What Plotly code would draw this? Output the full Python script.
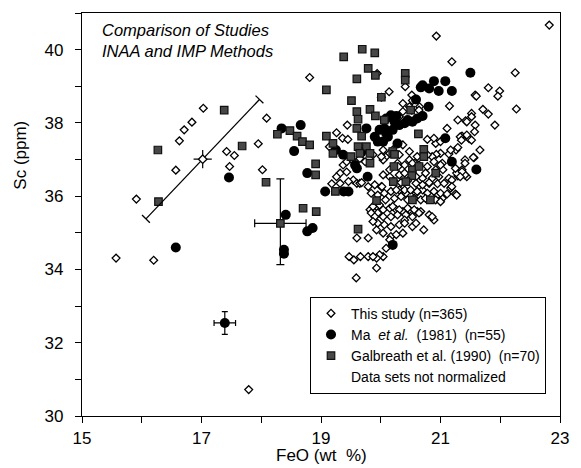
import plotly.graph_objects as go

# ---- data: (FeO wt %, Sc ppm) ----
this_study = [
    (17.03, 38.40), (16.84, 38.02), (16.71, 37.81), (16.63, 37.51), (16.57, 36.71),
    (15.91, 35.92), (15.57, 34.31), (16.20, 34.25), (18.09, 38.13), (17.95, 37.43),
    (17.42, 37.22), (17.55, 37.11), (17.47, 36.81), (18.02, 36.72), (17.79, 30.72),
    (22.82, 40.67), (20.93, 40.37), (21.19, 39.67), (22.25, 39.37), (18.81, 39.24),
    (22.27, 38.38), (21.80, 38.96), (21.99, 38.87), (21.96, 38.73), (21.58, 38.76),
    (21.60, 38.73), (21.15, 38.46), (21.71, 38.37), (21.52, 38.26), (21.80, 38.24),
    (21.29, 38.08), (21.42, 38.06), (21.58, 37.94), (21.91, 37.94), (21.11, 37.85),
    (21.36, 37.64), (21.48, 37.57), (21.66, 37.26), (21.56, 37.05), (21.41, 36.99),
    (21.26, 37.26), (21.14, 37.15), (21.00, 37.17), (20.93, 37.14), (20.86, 37.08),
    (21.25, 36.06), (21.44, 36.53), (21.36, 36.72), (21.29, 36.55), (21.14, 36.49),
    (19.44, 37.94), (19.26, 37.73), (19.36, 37.58), (19.45, 37.55), (19.19, 37.35),
    (19.14, 37.35), (20.14, 38.85), (20.01, 38.70), (20.37, 38.53), (20.52, 38.35),
    (20.65, 38.44), (20.52, 38.76), (20.41, 38.99), (19.94, 39.35), (20.37, 37.40),
    (20.20, 37.26), (20.09, 37.08), (20.04, 37.26), (19.18, 36.34), (19.32, 36.63),
    (19.26, 36.53), (19.43, 36.66), (19.54, 36.44), (19.60, 36.35), (19.37, 36.85),
    (19.43, 36.94), (19.51, 37.01), (20.48, 38.44), (20.53, 38.61), (20.64, 38.35),
    (20.37, 38.31), (20.31, 38.17), (21.44, 38.03), (21.52, 38.17), (21.33, 37.62),
    (21.44, 37.67), (21.52, 37.53), (21.57, 37.76), (20.78, 37.55), (20.92, 37.44),
    (20.89, 37.58), (21.00, 37.49), (21.29, 37.33), (21.35, 37.53), (21.17, 37.26),
    (20.04, 36.99), (20.28, 36.90), (20.48, 36.99), (20.57, 36.90), (20.75, 36.63),
    (20.92, 36.72), (21.03, 36.90), (21.27, 36.63), (21.41, 36.58), (21.41, 36.90),
    (21.55, 37.06), (21.25, 36.76), (21.36, 36.67), (21.33, 36.53), (20.95, 36.03),
    (21.03, 35.94), (19.65, 36.35), (19.79, 36.26), (19.90, 36.31), (20.01, 36.26),
    (19.84, 36.08), (19.95, 36.03), (20.06, 36.08), (20.17, 36.13), (20.31, 36.17),
    (20.42, 36.08), (20.59, 36.08), (20.70, 36.17), (20.78, 36.08), (19.82, 35.63),
    (19.93, 35.72), (20.04, 35.63), (20.15, 35.67), (20.26, 35.63), (20.37, 35.58),
    (20.48, 35.63), (20.61, 35.58), (20.04, 36.58), (20.15, 36.53), (20.31, 36.58),
    (20.40, 36.63), (20.59, 36.53), (20.70, 36.49), (20.81, 36.35), (20.86, 36.49),
    (20.97, 36.53), (21.04, 36.72), (21.00, 36.85), (20.15, 36.72), (20.29, 36.81),
    (20.40, 36.85), (20.53, 36.90), (20.64, 36.85), (20.78, 36.81), (20.89, 36.94),
    (20.15, 37.17), (20.31, 37.13), (20.48, 37.22), (20.61, 37.08), (20.78, 37.13),
    (20.01, 37.08), (19.87, 37.13), (19.74, 36.94), (19.65, 37.03), (20.02, 36.26),
    (20.23, 36.40), (20.34, 36.37), (20.45, 36.42), (20.59, 36.35), (20.70, 36.31),
    (20.81, 36.37), (20.95, 36.34), (21.06, 36.35), (21.17, 36.22), (21.19, 36.44),
    (20.26, 36.17), (20.40, 36.17), (20.50, 36.17), (20.61, 36.13), (20.89, 36.13),
    (21.00, 36.08), (21.11, 36.06), (20.08, 35.90), (20.23, 35.94), (20.34, 35.99),
    (20.45, 35.90), (20.56, 35.94), (20.67, 35.90), (20.75, 35.94), (20.92, 35.90),
    (21.00, 35.85), (19.98, 35.76), (20.20, 35.72), (20.31, 35.63), (20.45, 35.67),
    (20.56, 35.63), (20.67, 35.58), (20.81, 35.49), (20.89, 35.35), (20.86, 35.44),
    (19.95, 35.54), (20.04, 35.44), (20.17, 35.44), (20.28, 35.49), (20.42, 35.49),
    (20.53, 35.44), (20.64, 35.54), (20.40, 35.35), (19.95, 35.26), (20.06, 35.22),
    (20.17, 35.17), (20.31, 35.22), (20.40, 35.26), (20.53, 35.17), (20.59, 35.26),
    (20.72, 35.08), (19.93, 35.08), (20.04, 34.99), (20.17, 34.90), (20.26, 34.95),
    (20.37, 34.99), (20.15, 34.81), (20.09, 34.58), (20.04, 34.35), (19.98, 34.40),
    (19.93, 34.31), (19.93, 34.04), (21.19, 36.26), (21.27, 36.03), (19.32, 36.35),
    (19.46, 36.40), (19.68, 36.37), (19.87, 35.72), (19.84, 35.54), (19.90, 35.44),
    (19.87, 35.31), (19.60, 34.86), (19.79, 34.86), (19.47, 34.35), (19.55, 34.26),
    (19.66, 34.35), (19.79, 34.35), (19.87, 34.35), (19.59, 33.77),
]

ma_1981 = [
    (17.46, 36.51), (16.57, 34.60), (18.41, 35.49), (18.38, 34.54), (18.38, 34.43),
    (18.34, 37.85), (18.55, 37.23), (18.77, 35.04), (18.86, 35.13), (18.66, 37.94),
    (18.77, 36.63), (21.50, 39.37), (20.70, 39.03), (20.89, 39.14), (21.08, 39.14),
    (21.19, 38.87), (20.97, 38.87), (20.81, 38.94), (20.67, 38.97), (20.59, 38.64),
    (20.80, 38.44), (20.70, 38.19), (20.61, 38.12), (20.53, 38.03), (20.40, 37.99),
    (20.26, 38.19), (20.17, 38.21), (20.23, 38.03), (20.31, 37.94), (20.45, 38.08),
    (20.09, 38.12), (20.20, 37.81), (20.06, 37.85), (20.09, 37.72), (19.98, 37.81),
    (19.90, 37.62), (19.95, 37.49), (20.04, 37.49), (20.12, 37.62), (19.76, 37.85),
    (20.28, 37.44), (21.08, 37.58), (21.19, 36.94), (21.60, 36.73), (19.25, 37.26),
    (19.37, 37.13), (19.57, 36.85), (19.60, 36.76), (19.78, 36.53), (19.68, 37.21),
    (19.46, 36.13), (19.38, 36.13), (19.07, 36.13), (20.20, 34.67),
]

galbreath_1990 = [
    (17.38, 38.35), (16.27, 37.26), (16.28, 35.85), (17.68, 37.37), (18.08, 36.38),
    (18.27, 37.69), (18.48, 37.79), (18.70, 35.67), (18.92, 35.58), (19.69, 40.01),
    (19.90, 39.91), (19.38, 39.80), (19.79, 39.49), (19.91, 39.30), (19.60, 39.20),
    (19.09, 38.90), (20.41, 39.35), (20.41, 39.17), (19.51, 38.61), (20.01, 38.70),
    (19.60, 38.31), (19.82, 38.37), (19.91, 38.19), (19.62, 38.10), (19.60, 37.85),
    (19.68, 37.64), (19.62, 37.35), (19.76, 37.35), (19.82, 37.17), (19.82, 36.90),
    (19.65, 37.17), (19.50, 37.08), (19.09, 37.64), (19.20, 37.44), (19.20, 37.17),
    (20.06, 38.08), (20.20, 37.22), (20.23, 37.14), (20.63, 37.70), (20.50, 38.35),
    (20.72, 37.28), (20.72, 37.08), (20.22, 36.81), (20.53, 36.72), (20.52, 36.56),
    (20.64, 36.81), (20.21, 36.40), (20.42, 36.40), (20.92, 36.63), (18.91, 36.88),
    (18.91, 36.58), (18.60, 37.64), (18.69, 37.49), (18.81, 37.40), (19.24, 36.13),
    (19.93, 35.88), (20.53, 35.90), (20.83, 35.90), (19.62, 35.10),
]

# representative uncertainties
diag_center = (17.02, 37.01)      # this study, correlated error
diag_half = (0.95, 1.63)
galb_err_pt = (18.32, 35.26)
galb_err_x = 0.43
galb_err_y_plus, galb_err_y_minus = 1.21, 1.13
ma_err_pt = (17.39, 32.54)
ma_err_x, ma_err_y = 0.18, 0.31

x_range = [15, 23]
y_range = [30, 41]
x_ticks = [15, 17, 19, 21, 23]
y_ticks = [30, 32, 34, 36, 38, 40]

FONT = "Liberation Sans, Arial, Helvetica, sans-serif"
W, H = 581, 468
M = dict(l=82, r=15, t=13, b=52)
plot_w = W - M["l"] - M["r"]
plot_h = H - M["t"] - M["b"]
kx = plot_w / (x_range[1] - x_range[0])
ky = plot_h / (y_range[1] - y_range[0])

SQ_FILL, SQ_EDGE = "#474747", "#111111"


def split(pairs):
    return [p[0] for p in pairs], [p[1] for p in pairs]


fig = go.Figure()

tx, ty = split(this_study)
fig.add_trace(go.Scatter(
    x=tx, y=ty, mode="markers", name="This study (n=365)",
    marker=dict(symbol="diamond", size=6, color="white",
                line=dict(color="black", width=1.3)),
))

mx, my = split(ma_1981)
fig.add_trace(go.Scatter(
    x=mx, y=my, mode="markers",
    name="Ma\u00a0\u00a0<i>et al.</i>\u00a0\u00a0(1981)\u00a0\u00a0(n=55)",
    marker=dict(symbol="circle", size=10, color="black",
                line=dict(color="black", width=0)),
))

gx, gy = split(galbreath_1990)
fig.add_trace(go.Scatter(
    x=gx, y=gy, mode="markers",
    name="Galbreath et al. (1990)\u00a0\u00a0(n=70)",
    marker=dict(symbol="square", size=7.5, color=SQ_FILL,
                line=dict(color=SQ_EDGE, width=1.2)),
))

fig.add_trace(go.Scatter(
    x=[None], y=[None], mode="markers", name="Data sets not normalized",
    marker=dict(color="rgba(0,0,0,0)", size=1, line=dict(width=0)),
))

# diagonal (correlated) error bar with perpendicular caps
cx, cy = diag_center
hx, hy = diag_half
ends = [(cx - hx, cy - hy), (cx + hx, cy + hy)]
dpx, dpy = hx * kx, hy * ky
norm = (dpx ** 2 + dpy ** 2) ** 0.5
cap = 5.5
ox, oy = (-dpy / norm) * cap / kx, (dpx / norm) * cap / ky
bar_x = [ends[0][0], ends[1][0], None]
bar_y = [ends[0][1], ends[1][1], None]
for ex, ey in ends:
    bar_x += [ex - ox, ex + ox, None]
    bar_y += [ey - oy, ey + oy, None]
fig.add_trace(go.Scatter(
    x=bar_x, y=bar_y, mode="lines", showlegend=False, hoverinfo="skip",
    line=dict(color="black", width=1.3),
))
fig.add_trace(go.Scatter(
    x=[cx], y=[cy], mode="markers", showlegend=False,
    marker=dict(symbol="cross-thin-open", size=13, color="black",
                line=dict(color="black", width=1.2)),
))
fig.add_trace(go.Scatter(
    x=[cx], y=[cy], mode="markers", showlegend=False,
    marker=dict(symbol="diamond", size=6.5, color="white",
                line=dict(color="black", width=1.3)),
))

fig.add_trace(go.Scatter(
    x=[galb_err_pt[0]], y=[galb_err_pt[1]], mode="markers", showlegend=False,
    marker=dict(symbol="square", size=7.5, color=SQ_FILL,
                line=dict(color=SQ_EDGE, width=1.2)),
    error_x=dict(type="data", array=[galb_err_x], color="black",
                 thickness=1.2, width=4),
    error_y=dict(type="data", symmetric=False, array=[galb_err_y_plus],
                 arrayminus=[galb_err_y_minus], color="black",
                 thickness=1.2, width=4),
))

fig.add_trace(go.Scatter(
    x=[ma_err_pt[0]], y=[ma_err_pt[1]], mode="markers", showlegend=False,
    marker=dict(symbol="circle", size=10, color="black"),
    error_x=dict(type="data", array=[ma_err_x], color="black",
                 thickness=1.2, width=3),
    error_y=dict(type="data", array=[ma_err_y], color="black",
                 thickness=1.2, width=3),
))

axis_common = dict(
    showgrid=False, zeroline=False, showline=True, linecolor="black",
    linewidth=1.3, mirror=True, ticks="outside", ticklen=6, tickwidth=1.2,
    tickcolor="black", tickfont=dict(family=FONT, size=17, color="black"),
)
fig.update_xaxes(range=x_range, tickvals=x_ticks,
                 minor=dict(dtick=1, ticks="outside", ticklen=6,
                            tickwidth=1.2, tickcolor="black"),
                 **axis_common)
fig.update_yaxes(range=y_range, tickvals=y_ticks, ticklabelstandoff=8,
                 minor=dict(dtick=1, ticks="outside", ticklen=6,
                            tickwidth=1.2, tickcolor="black"),
                 **axis_common)

fig.add_annotation(x=0.5, y=-0.098, xref="paper", yref="paper",
                   text="FeO (wt\u00a0\u00a0%)", showarrow=False,
                   font=dict(family=FONT, size=17, color="black"),
                   xanchor="center", yanchor="middle")
fig.add_annotation(x=-0.128, y=0.648, xref="paper", yref="paper",
                   text="Sc (ppm)", textangle=-90, showarrow=False,
                   font=dict(family=FONT, size=17, color="black"),
                   xanchor="center", yanchor="middle")
fig.add_annotation(x=15.3, y=40.24,
                   text="<i>Comparison of Studies</i><br><i>INAA and IMP Methods</i>",
                   showarrow=False, xanchor="left", yanchor="middle",
                   align="left",
                   font=dict(family=FONT, size=16.5, color="black"))

fig.update_layout(
    width=W, height=H, margin=M,
    paper_bgcolor="white", plot_bgcolor="white",
    font=dict(family=FONT, color="black"),
    legend=dict(x=0.477, y=0.296, xanchor="left", yanchor="top",
                bgcolor="white", bordercolor="black", borderwidth=1,
                font=dict(family=FONT, size=14, color="black"),
                itemsizing="trace", tracegroupgap=0),
    showlegend=True,
)

fig.write_html("out.html")
